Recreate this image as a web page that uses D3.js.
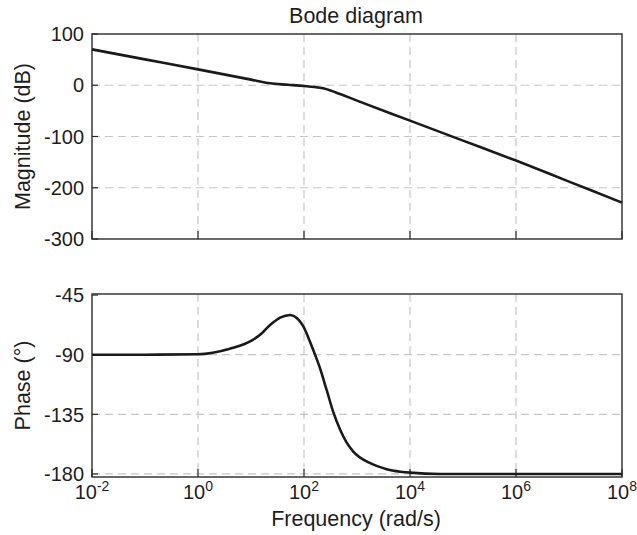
<!DOCTYPE html>
<html>
<head>
<meta charset="utf-8">
<script src="https://cdn.jsdelivr.net/npm/d3@7"></script>
<style>
  html, body { margin: 0; padding: 0; background: #fff; }
  svg { display: block; font-family: "Liberation Sans", Arial, Helvetica, sans-serif; }
</style>
</head>
<body>
<svg id="chart" width="637" height="535"></svg>
<script>
// ---- data ----
const chartTitle = "Bode diagram";
const xLabel = "Frequency (rad/s)";
const magLabel = "Magnitude (dB)";
const phaseLabel = "Phase (°)";

const xTickExps = [-2, 0, 2, 4, 6, 8];
const magTicks = [100, 0, -100, -200, -300];
const phaseTicks = [-45, -90, -135, -180];

// magnitude curve: frequency exponents (log10 rad/s) and dB values
const magFreqExp = [-2, -1, 0, 1, 1.36, 1.7, 2.0, 2.2, 2.36, 2.6, 3, 4, 5, 6, 7, 8];
const magDb      = [70, 50.5, 31, 11, 3.8, 1, -1.5, -3.5, -6, -14, -30, -69, -108, -147, -188, -229];

// phase curve
const phaseFreqExp = [-2, -1, 0, 0.6, 1.01, 1.2, 1.36, 1.55, 1.74, 1.87, 1.99, 2.08, 2.175, 2.3, 2.43, 2.55, 2.68, 2.8, 2.93, 3.25, 3.56, 4.0, 4.57, 5, 6, 7, 8];
const phaseDeg     = [-90, -90, -89.7, -85.5, -79.4, -74, -67.6, -62, -60, -62.5, -68.9, -77, -86.5, -100, -117, -133, -146.5, -156, -163.1, -171.9, -176.4, -179, -180, -180, -180, -180, -180];

// ---- drawing ----
const svg = d3.select("#chart");
const left = 92, right = 622;
const x = d3.scaleLog().domain([1e-2, 1e8]).range([left, right]);
const yMag = d3.scaleLinear().domain([-300, 100]).range([239, 34]);
const yPh = d3.scaleLinear().domain([-182.3, -44.2]).range([477, 294]);

const gridColor = "#c6c6c6";
const axisColor = "#2a2a2a";
const textColor = "#1e1e1e";
const tickFont = 20;
const labelFont = 21.5;

function panel(yScale, yTicks, labelText, yTop, yBottom) {
  const g = svg.append("g");
  g.selectAll(".vg").data(xTickExps.slice(1, -1)).join("line")
    .attr("x1", d => x(10 ** d)).attr("x2", d => x(10 ** d))
    .attr("y1", yTop).attr("y2", yBottom)
    .attr("stroke", gridColor).attr("stroke-width", 1.2).attr("stroke-dasharray", "8,5");
  g.selectAll(".hg").data(yTicks.filter(v => yScale(v) > yTop + 2 && yScale(v) < yBottom - 1)).join("line")
    .attr("x1", left).attr("x2", right)
    .attr("y1", d => yScale(d)).attr("y2", d => yScale(d))
    .attr("stroke", gridColor).attr("stroke-width", 1.2).attr("stroke-dasharray", "8,5");
  g.selectAll(".bt").data(xTickExps).join("line")
    .attr("x1", d => x(10 ** d)).attr("x2", d => x(10 ** d))
    .attr("y1", yBottom).attr("y2", yBottom - 8)
    .attr("stroke", axisColor).attr("stroke-width", 1.2);
  g.selectAll(".lt").data(yTicks).join("line")
    .attr("x1", left).attr("x2", left + 6)
    .attr("y1", d => yScale(d)).attr("y2", d => yScale(d))
    .attr("stroke", axisColor).attr("stroke-width", 1.2);
  g.append("rect").attr("x", left).attr("y", yTop)
    .attr("width", right - left).attr("height", yBottom - yTop)
    .attr("fill", "none").attr("stroke", axisColor).attr("stroke-width", 1.4);
  g.selectAll(".yl").data(yTicks).join("text")
    .attr("x", left - 8).attr("y", d => yScale(d))
    .attr("dy", "0.36em").attr("text-anchor", "end")
    .attr("font-size", tickFont).attr("fill", textColor)
    .text(d => d);
  g.append("text")
    .attr("transform", `translate(30,${(yTop + yBottom) / 2}) rotate(-90)`)
    .attr("text-anchor", "middle")
    .attr("font-size", labelFont).attr("fill", textColor)
    .text(labelText);
  return g;
}

const gMag = panel(yMag, magTicks, magLabel, 34, 239);
const gPh = panel(yPh, phaseTicks, phaseLabel, 294, 477);

const magData = magFreqExp.map((e, i) => [10 ** e, magDb[i]]);
const phData = phaseFreqExp.map((e, i) => [10 ** e, phaseDeg[i]]);

gMag.append("path").datum(magData)
  .attr("d", d3.line().x(d => x(d[0])).y(d => yMag(d[1])).curve(d3.curveMonotoneX))
  .attr("fill", "none").attr("stroke", "#1a1a1a").attr("stroke-width", 2.6).attr("stroke-linejoin", "round");

gPh.append("path").datum(phData)
  .attr("d", d3.line().x(d => x(d[0])).y(d => yPh(d[1])).curve(d3.curveMonotoneX))
  .attr("fill", "none").attr("stroke", "#1a1a1a").attr("stroke-width", 2.6).attr("stroke-linejoin", "round");

const xt = svg.selectAll(".xt").data(xTickExps).join("text")
  .attr("x", d => x(10 ** d)).attr("y", 499)
  .attr("text-anchor", "middle").attr("font-size", tickFont).attr("fill", textColor);
xt.append("tspan").text("10");
xt.append("tspan").attr("font-size", 14).attr("dy", -8).text(d => d);

svg.append("text").attr("x", 356).attr("y", 22.5).attr("text-anchor", "middle")
  .attr("font-size", labelFont).attr("fill", textColor).text(chartTitle);
svg.append("text").attr("x", 356).attr("y", 526).attr("text-anchor", "middle")
  .attr("font-size", labelFont).attr("fill", textColor).text(xLabel);
</script>
</body>
</html>
